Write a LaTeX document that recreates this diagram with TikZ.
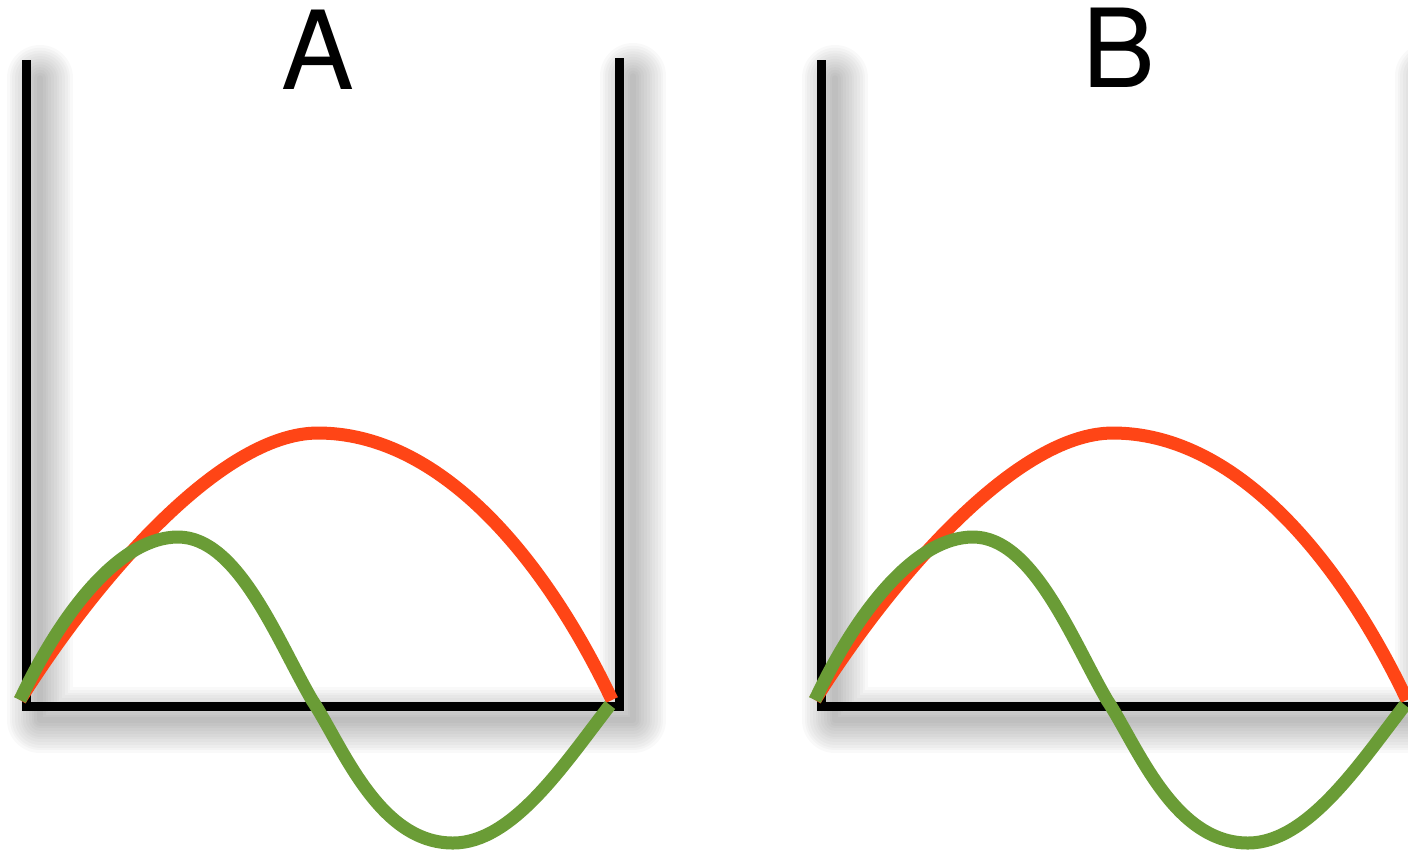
\documentclass[tikz,border=0pt]{standalone}
\usepackage{fontspec}
\setsansfont{TeX Gyre Heros}
\usetikzlibrary{positioning}
\definecolor{wRed}{HTML}{FF4516}
\definecolor{wGreen}{HTML}{6A9C36}

\begin{document}
\begin{tikzpicture}[x=0.01cm, y=-0.01cm,
    wall/.style={line width=0.9mm, black, line join=miter},
    shade/.style={line width=#1, black, opacity=0.022, line join=round, line cap=round},
    mode/.style={line width=1.3mm},
    lbl/.style={font=\sffamily\fontsize{31}{31}\selectfont}]
  \useasboundingbox (0,0) rectangle (1408,853);
  \foreach \dx/\lbl/\lx/\ly in {0/A/318/50, 795/B/1119/48} {
    % soft shadow of the box
    \foreach \s in {1,...,12}
      \draw[shade=\s*0.55mm] ({\dx+40},78) -- ({\dx+40},720) -- ({\dx+633},720) -- ({\dx+633},76);
    \draw[wall] ({\dx+26.5},60) -- ({\dx+26.5},706) -- ({\dx+619},706) -- ({\dx+619},58);
    % standing waves
    \draw[mode, wRed] ({\dx+20},700) .. controls ({\dx+90},588) and ({\dx+218},433) .. ({\dx+318},433)
      .. controls ({\dx+438},433) and ({\dx+542},553) .. ({\dx+612},700);
    \draw[mode, wGreen] ({\dx+20},700) .. controls ({\dx+65},605) and ({\dx+123},537) .. ({\dx+178},537)
      .. controls ({\dx+238},537) and ({\dx+277},640) .. ({\dx+312},700)
      .. controls ({\dx+342},745) and ({\dx+378},843) .. ({\dx+453},843)
      .. controls ({\dx+513},843) and ({\dx+565},763) .. ({\dx+610},705);
    \node[lbl] (lbl\lbl) at (\lx,\ly) {\lbl};
  }
\end{tikzpicture}
\end{document}
